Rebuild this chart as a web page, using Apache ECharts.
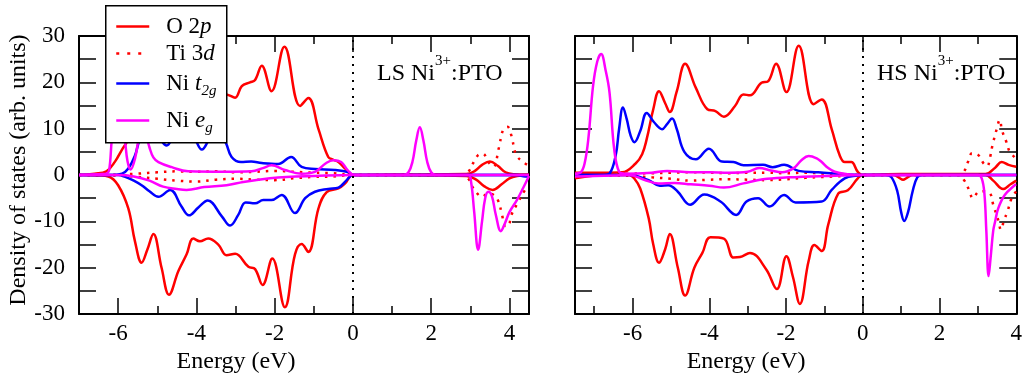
<!DOCTYPE html>
<html>
<head>
<meta charset="utf-8">
<title>Ni3+:PTO density of states</title>
<script src="https://cdn.jsdelivr.net/npm/echarts@6/dist/echarts.min.js"></script>
<style>
html, body { margin: 0; padding: 0; background: #fff; }
#main { width: 1025px; height: 379px; }
</style>
</head>
<body>
<div id="main"></div>
<script>
// ---- data: [energy (eV), DOS] ----
// LS Ni3+:PTO (left panel)
var lsO2pUp = [[-7, 0], [-6.6, 0.3], [-6.3, 0.8], [-6.08, 2.9], [-5.9, 5.5], [-5.78, 7.1], [-5.6, 11], [-5.35, 16], [-5.1, 13], [-4.75, 21], [-4.45, 18.5], [-4.1, 16], [-3.7, 16.5], [-3.4, 17.5], [-3.23, 17.4], [-3.01, 16.7], [-2.84, 19.2], [-2.63, 20.0], [-2.5, 20.5], [-2.33, 23.6], [-2.08, 18.1], [-1.75, 27.7], [-1.35, 14.9], [-1.14, 16.6], [-0.88, 9.9], [-0.63, 3.9], [-0.5, 3.3], [-0.37, 2.8], [-0.2, 1.4], [0, 0], [1, 0.1], [2.9, 0.2], [3.1, 0.8], [3.3, 2.2], [3.5, 2.95], [3.7, 2.0], [3.9, 0.6], [4.1, 0.2], [4.5, 0.1]];
var lsO2pDn = [[-7, 0], [-6.5, -0.1], [-6.25, -0.3], [-6.0, -2.2], [-5.74, -7.2], [-5.57, -14.3], [-5.4, -18.9], [-5.25, -16], [-5.1, -12.7], [-4.89, -20], [-4.7, -25.8], [-4.46, -20.7], [-4.25, -17.1], [-4.08, -13.7], [-3.91, -14.3], [-3.7, -13.7], [-3.44, -15.0], [-3.23, -17.3], [-3.01, -17.0], [-2.67, -19.8], [-2.5, -20.3], [-2.31, -23.7], [-2.06, -18.0], [-1.74, -28.5], [-1.48, -17.1], [-1.31, -14.9], [-1.14, -16.6], [-0.88, -7.2], [-0.67, -3.7], [-0.37, -2.9], [-0.2, -1.8], [0, 0], [2.9, -0.2], [3.15, -1], [3.35, -2.4], [3.57, -3.2], [3.8, -2], [4.0, -0.7], [4.2, -0.2], [4.5, 0]];
var lsTi3dUp = [[-7, 0], [-6, 0.1], [-5.5, 0.3], [-5, 0.6], [-4.5, 0.8], [-4, 0.7], [-3.5, 0.8], [-3, 0.6], [-2.5, 0.7], [-2, 0.9], [-1.5, 0.7], [-1, 0.5], [-0.5, 0.4], [0, 0], [2.8, 0], [2.95, 0.7], [3.1, 3], [3.2, 4.3], [3.32, 4.6], [3.46, 2.8], [3.59, 1.8], [3.73, 5.9], [3.84, 9.8], [3.95, 10.4], [4.05, 8.5], [4.17, 4.4], [4.35, 2.8], [4.5, 2]];
var lsTi3dDn = [[-7, 0], [-6, -0.1], [-5.5, -0.4], [-5, -0.8], [-4.5, -1.2], [-4, -1.4], [-3.5, -1.0], [-3, -0.8], [-2.5, -1.0], [-2, -1.1], [-1.5, -0.7], [-1, -0.4], [-0.5, -0.3], [0, 0], [2.8, 0], [2.95, -0.8], [3.05, -2.5], [3.18, -4.0], [3.3, -4.7], [3.45, -4.0], [3.6, -4.3], [3.72, -5.7], [3.8, -8.2], [3.9, -11], [3.97, -11], [4.05, -8.6], [4.18, -6.5], [4.4, -3.2], [4.5, -2.5]];
var lsT2gUp = [[-7, 0], [-6.2, 0], [-5.9, 0.3], [-5.74, 1.4], [-5.57, 4.2], [-5.45, 7.5], [-5.25, 10], [-5.0, 8.5], [-4.76, 6.4], [-4.55, 9], [-4.3, 10.5], [-4.05, 8], [-3.86, 5.5], [-3.65, 8], [-3.45, 9.5], [-3.25, 7], [-3.1, 3.9], [-2.86, 2.8], [-2.6, 2.9], [-2.33, 2.6], [-1.91, 2.4], [-1.58, 3.9], [-1.31, 1.75], [-0.97, 1.3], [-0.46, 1.1], [-0.1, 0.6], [0, 0], [4.5, 0]];
var lsT2gDn = [[-7, 0], [-6.0, 0], [-5.82, -0.4], [-5.6, -1.2], [-5.4, -2.2], [-5.2, -3.5], [-4.97, -4.7], [-4.67, -3.2], [-4.38, -6.8], [-4.19, -8.7], [-3.95, -7], [-3.71, -5.5], [-3.35, -8.9], [-3.14, -10.9], [-2.93, -8.6], [-2.74, -5.9], [-2.5, -6.1], [-2.29, -5.4], [-2.08, -5.4], [-1.82, -4.3], [-1.48, -8.2], [-1.22, -5.0], [-0.97, -3.6], [-0.63, -3.0], [-0.37, -2.7], [-0.16, -1.1], [0, 0], [4.2, 0], [4.4, -0.3], [4.5, -0.3]];
var lsEgUp = [[-7, 0], [-6.4, 0.2], [-6.3, 0.3], [-6.23, 1], [-6.16, 7.8], [-6.08, 12.5], [-6.0, 14], [-5.92, 12.5], [-5.83, 7.8], [-5.76, 3], [-5.68, 1.2], [-5.57, 3.5], [-5.45, 9], [-5.38, 10.5], [-5.3, 9], [-5.2, 6], [-5.1, 3.8], [-4.97, 2.8], [-4.63, 1.7], [-4.21, 0.8], [-3.27, 0.7], [-2.59, 0.8], [-2.3, 1.5], [-2.08, 2.1], [-1.74, 1.1], [-1.31, 0.3], [-0.97, 0.7], [-0.7, 2.5], [-0.5, 3.2], [-0.3, 2.8], [-0.13, 1], [0.04, 0], [1.3, 0], [1.42, 0.6], [1.52, 2.8], [1.62, 7.5], [1.71, 10.3], [1.8, 7.5], [1.9, 2.8], [2.0, 0.6], [2.12, 0], [4.5, 0]];
var lsEgDn = [[-7, 0], [-6.0, 0], [-5.6, -0.3], [-5.2, -1.2], [-4.85, -2.5], [-4.5, -3.0], [-4.25, -3.2], [-3.8, -2.6], [-3.23, -2.2], [-2.8, -1.5], [-2.12, -0.7], [-1.7, -0.4], [-1, -0.2], [0, 0], [2.95, 0], [3.02, -1.5], [3.1, -8], [3.2, -16.1], [3.3, -10], [3.38, -5], [3.46, -3.6], [3.55, -4.5], [3.65, -8.5], [3.78, -12.1], [3.88, -10.5], [4.0, -8], [4.19, -5.4], [4.35, -2.8], [4.5, -0.2]];

// HS Ni3+:PTO (right panel)
var hsO2pUp = [[-7.5, 0.5], [-6.78, 0.5], [-6.27, 0.6], [-5.92, 2.5], [-5.75, 4.5], [-5.63, 7.8], [-5.46, 14.2], [-5.31, 18.1], [-5.15, 15.5], [-5.03, 13.6], [-4.85, 18], [-4.63, 24.0], [-4.35, 18.8], [-4.05, 14.2], [-3.84, 13.8], [-3.62, 12.6], [-3.33, 14.9], [-3.11, 17.4], [-2.94, 17.2], [-2.64, 19.9], [-2.47, 20.2], [-2.26, 24.0], [-1.99, 17.9], [-1.67, 27.9], [-1.28, 15.3], [-1.07, 16.3], [-0.81, 9.9], [-0.6, 4.2], [-0.47, 2.8], [-0.3, 2.8], [-0.13, 0.7], [0, 0], [1.0, 0.2], [3.2, 0.2], [3.45, 1.6], [3.62, 2.8], [3.8, 2.2], [4.0, 1.8]];
var hsO2pDn = [[-7.5, -0.7], [-7.2, -0.3], [-6.78, 0], [-6.09, 0], [-5.95, -0.8], [-5.8, -2.9], [-5.58, -9.3], [-5.46, -15], [-5.31, -18.9], [-5.15, -16], [-5.03, -12.7], [-4.82, -20], [-4.63, -26], [-4.39, -20], [-4.18, -16.8], [-3.97, -13.4], [-3.62, -13.7], [-3.37, -17.8], [-3.2, -17.7], [-2.94, -16.8], [-2.52, -20.3], [-2.24, -24.6], [-1.99, -17.5], [-1.82, -22], [-1.64, -27.8], [-1.41, -18.5], [-1.26, -15.1], [-1.07, -16.4], [-0.9, -10.7], [-0.64, -4.0], [-0.39, -3.3], [-0.13, -0.7], [0, 0], [0.8, 0], [0.95, -0.6], [1.05, -1.0], [1.15, -0.6], [1.3, 0], [3.2, 0], [3.4, -1.2], [3.66, -3.0], [3.85, -2.0], [4.0, -1.2]];
var hsTi3dUp = [[-7.5, 0.2], [-6.5, 0.2], [-6, 0.3], [-5.5, 0.4], [-5, 0.5], [-4.5, 0.6], [-4, 0.5], [-3.5, 0.4], [-3, 0.5], [-2.5, 0.5], [-2, 0.4], [-1.5, 0.5], [-1, 0.3], [-0.5, 0.2], [0, 0], [2.5, 0], [2.64, 0.8], [2.74, 2.8], [2.85, 4.7], [3.0, 4.4], [3.15, 2.5], [3.24, 1.9], [3.32, 3.9], [3.38, 6.4], [3.49, 9.9], [3.57, 11.9], [3.63, 9.6], [3.74, 7.2], [3.83, 5.0], [3.95, 3.9], [4.0, 3.5]];
var hsTi3dDn = [[-7.5, 0], [-6.5, -0.1], [-6, -0.2], [-5.5, -0.5], [-5, -0.8], [-4.5, -1.2], [-4, -1.0], [-3.5, -0.9], [-3, -1.0], [-2.5, -1.1], [-2, -0.9], [-1.5, -0.6], [-1, -0.4], [-0.5, -0.2], [0, 0], [2.5, 0], [2.64, -1.1], [2.77, -3.2], [2.87, -5.0], [3.02, -3.6], [3.15, -3.5], [3.32, -4.0], [3.4, -6.4], [3.53, -9.7], [3.6, -11.8], [3.68, -9.8], [3.77, -7.9], [3.88, -5], [4.0, -3.5]];
var hsT2gUp = [[-7.5, 0], [-6.75, 0], [-6.6, 0.3], [-6.44, 4.2], [-6.35, 10], [-6.25, 14.6], [-6.15, 12], [-6.05, 8.5], [-5.95, 7.1], [-5.8, 9.5], [-5.63, 13.4], [-5.45, 11.5], [-5.23, 9.9], [-5.1, 11], [-4.97, 12.2], [-4.85, 10], [-4.65, 5.0], [-4.35, 3.4], [-4.01, 5.7], [-3.67, 2.9], [-3.37, 2.8], [-3.11, 2.1], [-2.6, 2.2], [-2.35, 1.7], [-2.05, 2.2], [-1.67, 0.9], [-1.16, 0.6], [-0.38, 0.1], [0, 0], [4, 0]];
var hsT2gDn = [[-7.5, 0], [-6.09, 0], [-5.58, -1.1], [-5.29, -2.3], [-5.07, -2.2], [-4.82, -3.6], [-4.5, -6.4], [-4.13, -4.2], [-3.71, -5.7], [-3.3, -8.6], [-3.03, -5.7], [-2.73, -5.0], [-2.43, -6.8], [-2.05, -4.3], [-1.75, -5.9], [-1.07, -5.7], [-0.81, -3.2], [-0.47, -0.7], [-0.13, -0.1], [0, 0], [0.6, 0], [0.75, -0.5], [0.9, -3.5], [1.0, -8], [1.08, -9.9], [1.18, -8], [1.3, -3.5], [1.42, -0.5], [1.55, 0], [4, 0]];
var hsEgUp = [[-7.5, 0.3], [-7.35, 0.6], [-7.25, 2.5], [-7.15, 8], [-7.03, 19.2], [-6.92, 24.5], [-6.82, 26.1], [-6.7, 22.5], [-6.6, 17.8], [-6.48, 5.7], [-6.35, 0.7], [-6.2, 0.3], [-5.5, 0.5], [-5.1, 0.9], [-4.5, 0.6], [-4.0, 0.6], [-3.5, 0.5], [-3.0, 0.7], [-2.7, 1.5], [-2.4, 1.0], [-2.1, 0.6], [-1.8, 1.5], [-1.6, 3.2], [-1.41, 4.1], [-1.2, 3.6], [-1.07, 2.8], [-0.9, 1.5], [-0.73, 0.7], [-0.4, 0.2], [0, 0], [4, 0]];
var hsEgDn = [[-7.5, -0.3], [-7.0, -0.2], [-6.5, -0.1], [-6.09, 0], [-5.7, -1.0], [-5.33, -1.8], [-4.9, -1.7], [-4.48, -2.0], [-4.0, -2.3], [-3.62, -2.7], [-3.11, -1.8], [-2.6, -0.9], [-1.94, -0.5], [-1.0, -0.2], [0, 0], [3.0, 0], [3.1, -0.7], [3.17, -4], [3.22, -12], [3.28, -21.8], [3.33, -18], [3.4, -12], [3.45, -10], [3.53, -7.2], [3.7, -4.3], [3.96, -2.2], [4.0, -2]];

var legendNames = ['O 2p', 'Ti 3d', 'Ni t2g', 'Ni eg'];
var legendLabels = ['O 2{i|p}', 'Ti 3{i|d}', 'Ni {i|t}{sub|2g}', 'Ni {i|e}{sub|g}'];
// panel annotations: [before superscript, superscript, after]
var panelLabels = [['LS Ni', '3+', ':PTO'], ['HS Ni', '3+', ':PTO']];

var FONT = '"Liberation Serif", "Times New Roman", serif';
var RED = '#ff0000', BLUE = '#0000ff', MAGENTA = '#ff00ff';

var myChart = echarts.init(document.getElementById('main'));

var tickStyle = { color: '#000', width: 1.5 };

function energyAxis(gridIndex, min, max, pos, shift) {
    var bottom = pos === 'bottom';
    return {
        type: 'value', gridIndex: gridIndex, position: pos,
        min: min, max: max, minInterval: 2, maxInterval: 2,
        axisLine: { onZero: false, lineStyle: { color: '#000', width: 2 } },
        axisTick: { inside: true, length: 16, lineStyle: tickStyle },
        minorTick: { show: true, splitNumber: 2, length: 8, lineStyle: tickStyle },
        splitLine: { show: false },
        axisLabel: {
            show: bottom, margin: 8, fontFamily: FONT, fontSize: 23, color: '#000',
            formatter: function (v) { return v % 2 === 0 ? String(v) : ''; }
        },
        name: bottom ? 'Energy (eV)' : '',
        nameLocation: 'middle', nameGap: 30,
        nameTextStyle: { fontFamily: FONT, fontSize: 24, color: '#000', padding: [0, shift || 0, 0, 0] }
    };
}

function dosAxis(gridIndex, pos, labels) {
    return {
        type: 'value', gridIndex: gridIndex, position: pos,
        min: -30, max: 30, interval: 5,
        axisLine: { onZero: false, lineStyle: { color: '#000', width: 2 } },
        axisTick: { inside: true, length: 17, lineStyle: tickStyle },
        splitLine: { show: false },
        axisLabel: {
            show: labels, margin: 14, fontFamily: FONT, fontSize: 23, color: '#000',
            formatter: function (v) { return v % 10 === 0 ? String(v) : ''; }
        },
        name: labels ? 'Density of states (arb. units)' : '',
        nameLocation: 'middle', nameGap: 47,
        nameTextStyle: { fontFamily: FONT, fontSize: 24, color: '#000', padding: [0, 0, 0, 10] }
    };
}

function dos(name, data, idx, color, dotted) {
    return {
        name: name, type: 'line', xAxisIndex: idx, yAxisIndex: idx,
        data: data, smooth: 0.4, symbol: 'none', animation: false,
        lineStyle: { color: color, width: 2.5, type: dotted ? [2.5, 6] : 'solid' },
        itemStyle: { color: color },
        emphasis: { disabled: true }
    };
}

// vertical dotted line at the Fermi level
var fermi = {
    silent: true, symbol: 'none', label: { show: false },
    lineStyle: { color: '#000', type: [2, 6], width: 2 },
    data: [{ xAxis: 0 }]
};

function panel(idx, d) {
    var s = [
        dos(legendNames[0], d[0], idx, RED), dos(legendNames[0], d[1], idx, RED),
        dos(legendNames[1], d[2], idx, RED, true), dos(legendNames[1], d[3], idx, RED, true),
        dos(legendNames[2], d[4], idx, BLUE), dos(legendNames[2], d[5], idx, BLUE),
        dos(legendNames[3], d[6], idx, MAGENTA), dos(legendNames[3], d[7], idx, MAGENTA)
    ];
    s[0].markLine = fermi;
    return s;
}

var series = panel(0, [lsO2pUp, lsO2pDn, lsTi3dUp, lsTi3dDn, lsT2gUp, lsT2gDn, lsEgUp, lsEgDn])
    .concat(panel(2, [hsO2pUp, hsO2pDn, hsTi3dUp, hsTi3dDn, hsT2gUp, hsT2gDn, hsEgUp, hsEgDn]));

var legendTops = [15, 42, 72, 109];
var legends = legendNames.map(function (n, i) {
    return {
        data: [n], left: 115, top: legendTops[i], padding: 0, z: 60,
        itemWidth: 33, itemHeight: 14, selectedMode: false,
        formatter: legendLabels[i],
        itemStyle: { opacity: 0 },
        lineStyle: i === 1 ? { type: [3, 8], width: 2.5 } : { width: 2.5 },
        textStyle: {
            fontFamily: FONT, fontSize: 23, color: '#000', padding: [0, 0, 0, 12],
            rich: {
                i: { fontFamily: FONT, fontSize: 23, fontStyle: 'italic', color: '#000' },
                sub: { fontFamily: FONT, fontSize: 15, fontStyle: 'italic', color: '#000', padding: [16, 0, 0, 0] }
            }
        }
    };
});

// panel annotation: main text, raised "3+", then ":PTO"
var measure = document.createElement('canvas').getContext('2d');
function annotation(parts, x0) {
    measure.font = '24px ' + FONT;
    var w1 = measure.measureText(parts[0]).width;
    measure.font = '15px ' + FONT;
    var w2 = measure.measureText(parts[1]).width;
    var txt = function (t, x, y, size) {
        return {
            type: 'text', x: x, y: y, z: 50,
            style: { text: t, fontFamily: FONT, fontSize: size, fill: '#000', align: 'left', verticalAlign: 'middle' }
        };
    };
    return [txt(parts[0], x0, 73.5, 24), txt(parts[1], x0 + w1, 61, 15), txt(parts[2], x0 + w1 + w2, 73.5, 24)];
}

myChart.setOption({
    backgroundColor: '#fff',
    animation: false,
    grid: [
        { left: 79, top: 36, width: 450, height: 281 },
        { left: 575, top: 36, width: 451, height: 281 }
    ],
    xAxis: [
        energyAxis(0, -7, 4.5, 'bottom', 136), energyAxis(0, -7, 4.5, 'top'),
        energyAxis(1, -7.5, 4, 'bottom', 99), energyAxis(1, -7.5, 4, 'top')
    ],
    yAxis: [
        dosAxis(0, 'left', true), dosAxis(0, 'right', false),
        dosAxis(1, 'left', false), dosAxis(1, 'right', false)
    ],
    legend: legends,
    graphic: [
        {
            type: 'rect', left: 105, top: 5, z: 50,
            shape: { width: 121, height: 137 },
            style: { fill: '#fff', stroke: '#000', lineWidth: 1.5 }
        }
    ].concat(annotation(panelLabels[0], 377), annotation(panelLabels[1], 877)),
    series: series
});
</script>
</body>
</html>
